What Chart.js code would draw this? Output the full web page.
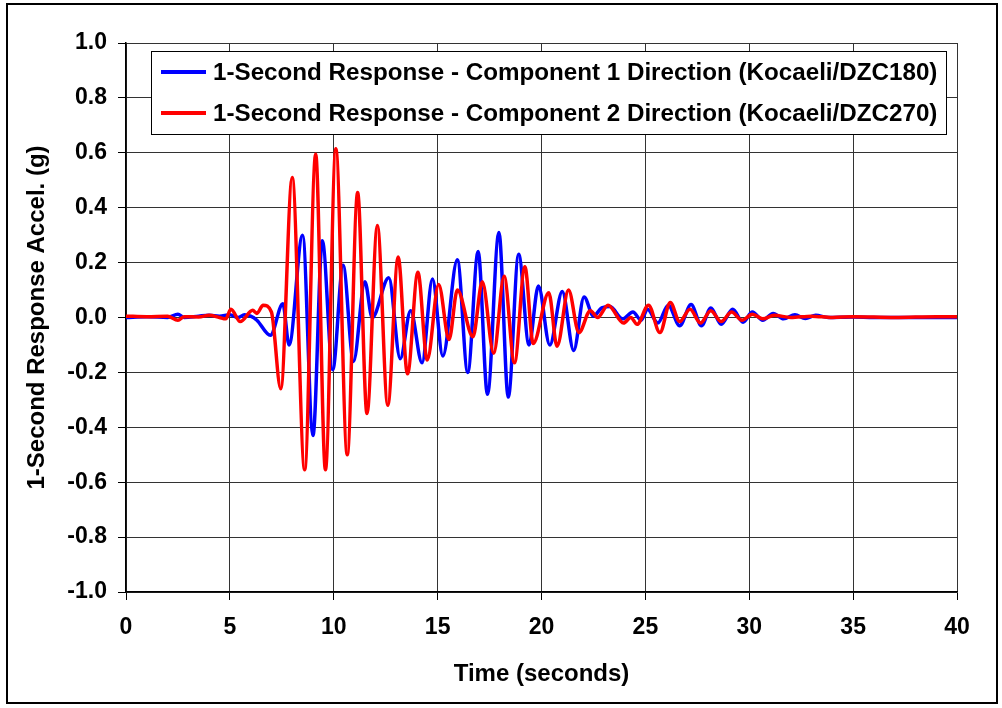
<!DOCTYPE html>
<html>
<head>
<meta charset="utf-8">
<title>1-Second Response</title>
<script src="https://cdn.jsdelivr.net/npm/chart.js@4"></script>
<style>
    html, body { margin: 0; padding: 0; background: #fff; }
    #chartBox { width: 1002px; height: 708px; }
</style>
</head>
<body>
<div id="chartBox"><canvas id="responseChart" width="1002" height="708"></canvas></div>
<script>
// Data (time in seconds, acceleration in g)
const comp1Label = '1-Second Response - Component 1 Direction (Kocaeli/DZC180)';
const comp1Times = [0, 1.0, 2.0, 2.5, 2.8, 3.5, 4.0, 4.5, 5.0, 5.4, 5.7, 6.0, 6.3, 6.95, 7.55, 7.85, 8.5, 9.0, 9.45, 9.95,
    10.45, 10.95, 11.5, 11.85, 12.65, 13.2, 13.7, 14.25, 14.75, 15.25, 15.95, 16.45, 16.95, 17.4, 17.95, 18.4, 18.9, 19.4, 19.85, 20.4,
    21.0, 21.55, 22.05, 22.5, 22.9, 23.3, 23.9, 24.4, 24.8, 25.1, 25.6, 26.1, 26.65, 27.2, 27.7, 28.15, 28.65, 29.2, 29.7, 30.15,
    30.65, 31.15, 31.65, 32.2, 32.7, 33.2, 33.8, 35, 36, 40];
const comp1Accel = [0, 0.003, 0, 0.012, 0, 0.005, 0.008, 0.005, 0.01, 0, 0.01, 0.005, -0.01, -0.065, 0.05, -0.1, 0.30, -0.43, 0.28, -0.19,
    0.19, -0.16, 0.13, 0, 0.145, -0.15, 0.025, -0.165, 0.14, -0.14, 0.21, -0.2, 0.24, -0.28, 0.31, -0.29, 0.23, -0.1, 0.115, -0.1,
    0.095, -0.12, 0.075, 0.005, 0.035, 0.04, -0.005, 0.02, -0.01, 0.03, -0.02, 0.045, -0.03, 0.047, -0.03, 0.035, -0.025, 0.03, -0.017, 0.02,
    -0.01, 0.015, -0.005, 0.01, -0.004, 0.008, 0, 0.002, 0, 0];

const comp2Label = '1-Second Response - Component 2 Direction (Kocaeli/DZC270)';
const comp2Times = [0, 1, 2, 2.5, 2.8, 3.5, 4.0, 4.5, 4.8, 5.05, 5.5, 6.1, 6.3, 6.6, 7.0, 7.45, 8.0, 8.6, 9.13, 9.6,
    10.1, 10.65, 11.15, 11.6, 12.1, 12.6, 13.1, 13.55, 14.05, 14.5, 15.05, 15.55, 15.95, 16.7, 17.15, 17.7, 18.2, 18.7, 19.2, 19.6,
    20.35, 20.75, 21.3, 21.8, 22.35, 22.7, 23.2, 23.95, 24.3, 24.6, 25.15, 25.7, 26.2, 26.65, 27.15, 27.65, 28.15, 28.65, 29.15, 29.65,
    30.15, 30.65, 31.2, 32, 33, 34, 35, 37, 39, 40];
const comp2Accel = [0.005, 0.003, 0.005, -0.01, 0.003, 0.002, 0.008, 0, -0.005, 0.03, -0.015, 0.026, 0.015, 0.045, 0.02, -0.26, 0.51, -0.555, 0.595, -0.555,
    0.615, -0.5, 0.455, -0.35, 0.335, -0.32, 0.22, -0.205, 0.165, -0.155, 0.12, -0.08, 0.1, -0.07, 0.13, -0.13, 0.15, -0.165, 0.185, -0.095,
    0.09, -0.105, 0.1, -0.055, 0.025, 0, 0.045, -0.02, 0, -0.025, 0.045, -0.055, 0.055, -0.015, 0.03, -0.02, 0.025, -0.015, 0.02, -0.01,
    0.012, -0.005, 0.008, 0, 0.005, 0, 0.003, 0, 0.003, 0.003];

// Axis ticks
const timeTicks = [0, 5, 10, 15, 20, 25, 30, 35, 40];
const accelTicks = [-1.0, -0.8, -0.6, -0.4, -0.2, 0.0, 0.2, 0.4, 0.6, 0.8, 1.0];

function toPoints(xs, ys) {
    return xs.map((x, i) => ({ x: x, y: ys[i] }));
}

const FONT = 'Arial, "Liberation Sans", sans-serif';

// Outer frame + boxed legend inside the plot
const framePlugin = {
    id: 'frame',
    afterDraw(chart) {
        const ctx = chart.ctx;
        ctx.save();
        ctx.strokeStyle = '#000';
        ctx.lineWidth = 2;
        ctx.strokeRect(7, 4, 990, 699);

        // legend box
        ctx.fillStyle = '#fff';
        ctx.fillRect(151, 51, 795, 83);
        ctx.lineWidth = 1;
        ctx.strokeStyle = '#000';
        ctx.strokeRect(151.5, 51.5, 795, 83);

        const rows = [72, 113];
        ctx.font = 'bold 24.2px ' + FONT;
        ctx.textBaseline = 'middle';
        ctx.textAlign = 'left';
        chart.data.datasets.forEach((ds, i) => {
            const y = rows[i];
            ctx.strokeStyle = ds.borderColor;
            ctx.lineWidth = 4;
            ctx.beginPath();
            ctx.moveTo(161, y);
            ctx.lineTo(206, y);
            ctx.stroke();
            ctx.fillStyle = '#000';
            ctx.fillText(ds.label, 213, y + 1);
        });
        ctx.restore();
    }
};

const ctx = document.getElementById('responseChart');

const responseChart = new Chart(ctx, {
    type: 'line',
    data: {
        datasets: [{
            label: comp1Label,
            data: toPoints(comp1Times, comp1Accel),
            borderColor: '#0000ff',
            borderWidth: 3.5,
            pointRadius: 0,
            cubicInterpolationMode: 'monotone',
            fill: false,
            order: 2
        }, {
            label: comp2Label,
            data: toPoints(comp2Times, comp2Accel),
            borderColor: '#ff0000',
            borderWidth: 3.5,
            pointRadius: 0,
            cubicInterpolationMode: 'monotone',
            fill: false,
            order: 1
        }]
    },
    options: {
        responsive: false,
        animation: false,
        layout: { padding: { left: 0, top: 43, right: 45, bottom: 0 } },
        plugins: {
            legend: { display: false },
            tooltip: { enabled: false }
        },
        scales: {
            x: {
                type: 'linear',
                min: 0,
                max: 40,
                afterBuildTicks: (scale) => { scale.ticks = timeTicks.map(v => ({ value: v })); },
                afterFit: (scale) => { scale.height = 116; },
                grid: { color: '#333', lineWidth: 1, tickLength: 8, tickColor: '#000' },
                border: { color: '#000', width: 1.5 },
                ticks: {
                    color: '#000',
                    padding: 14,
                    maxRotation: 0,
                    font: { family: FONT, size: 23, weight: 'bold' }
                },
                title: {
                    display: true,
                    text: 'Time (seconds)',
                    color: '#000',
                    padding: { top: 0, bottom: 19 },
                    font: { family: FONT, size: 24, weight: 'bold' }
                }
            },
            y: {
                type: 'linear',
                min: -1,
                max: 1,
                afterBuildTicks: (scale) => { scale.ticks = accelTicks.map(v => ({ value: v })); },
                afterFit: (scale) => { scale.width = 126; },
                grid: { color: '#333', lineWidth: 1, tickLength: 8, tickColor: '#000' },
                border: { color: '#000', width: 1.5 },
                ticks: {
                    color: '#000',
                    padding: 11,
                    font: { family: FONT, size: 23, weight: 'bold' },
                    callback: (v) => Number(v).toFixed(1)
                },
                title: {
                    display: true,
                    text: '1-Second Response Accel. (g)',
                    color: '#000',
                    padding: { top: 23, bottom: 0 },
                    font: { family: FONT, size: 24, weight: 'bold' }
                }
            }
        }
    },
    plugins: [framePlugin]
});
</script>
</body>
</html>
